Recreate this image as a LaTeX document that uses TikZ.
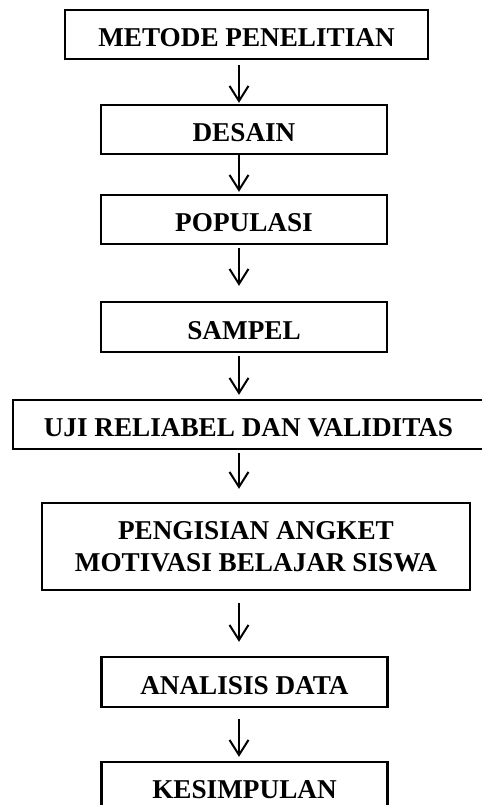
\documentclass[tikz,border=0pt]{standalone}
\usepackage{fontspec}
\setmainfont{Liberation Serif}
\usetikzlibrary{arrows.meta, positioning}
\tikzset{
  >={Straight Barb[length=7.5pt,width=9.5pt]},
  stage/.style={
    draw, line width=1.2pt, inner sep=0pt, align=center,
    minimum width=#1, minimum height=24.5pt,
    text height=12pt, text depth=0pt,
    font=\fontsize{13.6}{16}\selectfont\bfseries
  },
  stage/.default=143pt,
  arr/.style={->, line width=1pt}
}
\begin{document}
\begin{tikzpicture}[x=0.5pt,y=-0.5pt]
  \useasboundingbox (0,0) rectangle (482,805);
  \clip (0,0) rectangle (482,805);
  \coordinate (spine) at (239,0);
  \node[stage=181.5pt] (metode) at (246.5,34.5) {METODE PENELITIAN};
  \node[stage] (desain) at (244,129.5) {DESAIN};
  \node[stage] (populasi) at (244,219.5) {POPULASI};
  \node[stage,minimum height=25pt] (sampel) at (244,327) {SAMPEL};
  \node[stage=235.5pt] (uji) at (248.5,424.5) {UJI RELIABEL DAN VALIDITAS};
  \node[stage=214pt,minimum height=43.5pt,text height=,text depth=] (angket) at (256,546.5)
    {PENGISIAN ANGKET\\MOTIVASI BELAJAR SISWA};
  \node[stage,minimum height=25pt] (analisis) at (244.5,682) {ANALISIS DATA};
  \node[stage] (kesimpulan) at (244.5,786.5) {KESIMPULAN};
  % connectors down the spine
  \draw[arr,shorten <=2.5pt,shorten >=0.5pt] (metode.south -| spine) -- (desain.north -| spine);
  \draw[arr,shorten >=1pt] (desain.south -| spine) -- (populasi.north -| spine);
  \draw[arr,shorten <=1.5pt,shorten >=7.5pt] (populasi.south -| spine) -- (sampel.north -| spine);
  \draw[arr,shorten <=1.5pt,shorten >=2pt] (sampel.south -| spine) -- (uji.north -| spine);
  \draw[arr,shorten <=1.5pt,shorten >=6.5pt] (uji.south -| spine) -- (angket.north -| spine);
  \draw[arr,shorten <=6pt,shorten >=7pt] (angket.south -| spine) -- (analisis.north -| spine);
  \draw[arr,shorten <=5.5pt,shorten >=2pt] (analisis.south -| spine) -- (kesimpulan.north -| spine);
\end{tikzpicture}
\end{document}
